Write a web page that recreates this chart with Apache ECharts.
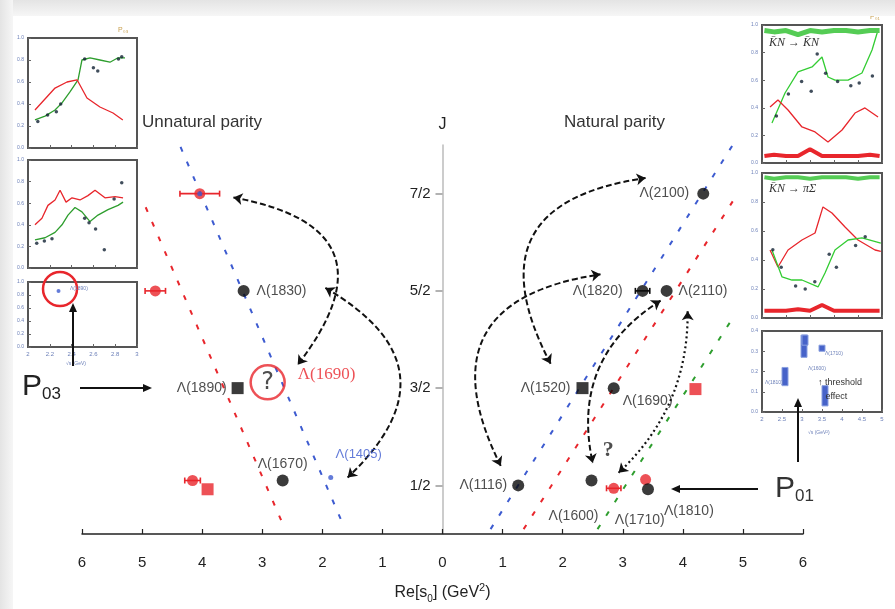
<!DOCTYPE html>
<html><head><meta charset="utf-8">
<script src="https://cdn.jsdelivr.net/npm/echarts@6/dist/echarts.min.js"></script>
<style>html,body{margin:0;padding:0;background:#fff}#c{width:895px;height:609px}</style>
</head><body><div id="c"></div>
<script>
// ---------------- data ----------------
const xTickLabels = ['6','5','4','3','2','1','0','1','2','3','4','5','6'];
const yTickValues = [0.5, 1.5, 2.5, 3.5];
const yTickLabels = ['1/2', '3/2', '5/2', '7/2'];

// known states (black)
const stateNames = ['Λ(1830)','Λ(1890)','Λ(1670)','Λ(2100)','Λ(1820)','Λ(2110)','Λ(1520)','Λ(1690)','Λ(1116)','Λ(1600)','Λ(1810)'];
const stateRe    = [-3.31, -3.41, -2.66, 4.34, 3.33, 3.73, 2.33, 2.85, 1.26, 2.48, 3.42];
const stateJ     = [2.5, 1.5, 0.55, 3.5, 2.5, 2.5, 1.5, 1.5, 0.5, 0.55, 0.46];
const stateShape = ['circle','rect','circle','circle','circle','circle','rect','circle','circle','circle','circle'];
const stateErr   = [0, 0, 0, 0, 0.12, 0, 0, 0, 0, 0, 0];

// poles found (red)
const poleNames = ['', '', '', '', '', 'Λ(1710)', ''];
const poleRe    = [-4.04, -4.78, -4.16, -3.91, 4.21, 2.85, 3.38];
const poleJ     = [3.5, 2.5, 0.55, 0.46, 1.49, 0.47, 0.56];
const poleErr   = [0.33, 0.17, 0.13, 0, 0, 0.12, 0];
const poleShape = ['circle','circle','circle','rect','rect','circle','circle'];

// blue states
const blueNames = ['Λ(1405)', ''];
const blueRe    = [-1.86, -4.04];
const blueJ     = [0.58, 3.5];

// question-mark candidate
const candRe = [-2.91];
const candJ  = [1.56];
const candLabel = 'Λ(1690)';
const qRe = [2.76];
const qJ  = [0.86];

// Regge trajectories [Re s, J] endpoints
const trajLeftRed   = [[-4.94, 3.36], [-2.65, 0.09]];
const trajLeftBlue  = [[-4.36, 3.98], [-1.65, 0.09]];
const trajRightBlue = [[0.80, 0.05], [4.83, 4.0]];
const trajRightRed  = [[1.35, 0.05], [4.83, 3.42]];
const trajRightGreen= [[2.58, 0.05], [4.83, 2.22]];

// connecting arrows [from, to, curvature]
const arrowFrom = [[-3.48, 3.46], [-1.95, 2.53], [0.97, 0.70], [1.80, 1.75], [3.63, 2.40], [4.08, 2.29]];
const arrowTo   = [[-2.41, 1.74], [-1.58, 0.58], [2.63, 2.67], [3.38, 3.66], [2.50, 0.73], [2.93, 0.63]];
const arrowBend = [0.82, 0.67, 0.69, 0.71, -0.35, 0.22];
const arrowDotted = [false, false, false, false, false, true];

// inset data (0..10 scales)
const l1X = [0.64,1.56,2.48,3.12,3.85,4.59,4.95,5.69,6.6,7.52,8.26,8.9];
const l1Green = [2.55,2.9,3.45,4.1,5.1,6.2,8.0,8.2,8.0,7.8,8.2,8.2];
const l1RedX = [0.64,2.48,3.58,4.5,5.41,6.6,7.8,8.7];
const l1Red  = [3.45,5.45,6.0,6.2,4.55,3.73,3.18,2.55];
const l1Black = [[0.9,2.4],[1.8,3.0],[2.6,3.3],[3.0,4.0],[5.2,8.1],[6.0,7.3],[6.4,7.0],[8.3,8.1],[8.6,8.3]];

const l2X = [0.64,1.56,2.48,3.12,3.67,4.31,4.95,5.69,6.42,7.34,8.26,8.72];
const l2Green = [2.6,2.8,3.3,4.0,4.9,5.6,5.2,4.3,4.9,5.4,5.8,6.1];
const l2RedX = [0.64,1.28,1.83,2.48,2.94,3.49,4.04,4.77,5.5,6.15,7.06,7.98,8.72];
const l2Red  = [4.0,4.6,5.8,6.3,7.2,6.1,6.5,6.3,6.7,7.2,6.5,6.6,6.5];
const l2Black = [[0.8,2.3],[1.5,2.5],[2.2,2.7],[5.2,4.6],[5.6,4.2],[6.2,3.6],[7.0,1.7],[7.9,6.4],[8.6,7.9]];

const l3Pt = [[2.8, 8.6]];

const r1GreenX = [0.83,1.92,3.0,4.17,5.0,5.5,6.08,7.17,8.33,9.17,9.67];
const r1Green  = [2.9,5.07,6.6,6.96,7.68,6.23,6.0,6.0,6.52,8.19,9.64];
const r1RedX = [0.67,1.33,2.17,3.33,4.42,5.5,6.67,7.75,8.58,9.67];
const r1Red  = [4.06,4.57,3.84,2.61,2.25,1.52,2.39,3.62,3.99,3.33];
const r1Black = [[1.2,3.4],[2.2,5.0],[3.3,5.9],[4.1,5.2],[4.6,7.9],[5.3,6.5],[6.3,5.9],[7.4,5.6],[8.1,5.8],[9.2,6.3]];
const r1BandX = [0.2,1.0,2.0,3.0,4.0,5.0,6.0,7.0,8.0,9.0,9.8];
const r1TopBand = [9.6,9.5,9.6,9.3,9.6,9.5,9.6,9.6,9.5,9.6,9.6];
const r1BotBand = [0.5,0.6,0.5,0.5,1.0,0.5,0.5,0.5,0.5,0.6,0.5];

const r2RedX = [0.67,1.33,2.17,3.33,4.42,5.08,5.83,6.92,8.0,9.42,9.9];
const r2Red  = [4.69,3.52,4.69,5.38,5.86,7.66,7.24,6.28,5.38,4.69,4.6];
const r2GreenX = [0.83,1.67,2.5,3.33,4.67,5.25,6.08,7.17,8.33,9.9];
const r2Green  = [4.69,2.83,2.62,2.62,2.14,3.1,4.69,5.38,5.52,5.17];
const r2Black = [[0.9,4.7],[1.6,3.5],[2.8,2.2],[3.6,2.0],[4.4,2.5],[5.6,4.4],[6.2,3.5],[7.8,5.0],[8.6,5.6]];
const r2TopBand = [9.7,9.6,9.7,9.7,9.6,9.7,9.7,9.7,9.6,9.7,9.7];
const r2BotBand = [0.5,0.5,0.5,0.6,0.5,0.9,0.5,0.5,0.5,0.5,0.5];

const r3XLabels = ['2','2.5','3','3.5','4','4.5','5'];
const r3Bars = [[2.1, 2.7, 3.8], [1.15, 1.3, 2.2], [2.15, 3.3, 3.8], [3.0, 3.0, 3.3], [3.15, 0.3, 1.3]];

// ---------------- styling ----------------
const RED = '#e8262c', BLUE = '#3d5bd0', GREEN = '#2e9e2e', BLACK = '#0a0a0a';
const FONT = 'Liberation Sans, Arial, sans-serif';

const stateLabelPlace = {
  'Λ(1830)': {position:'right', distance:7},
  'Λ(1890)': {position:'left', distance:5},
  'Λ(1670)': {position:'top', distance:3},
  'Λ(2100)': {position:'left', distance:8},
  'Λ(1820)': {position:'left', distance:14},
  'Λ(2110)': {position:'right', distance:6},
  'Λ(1520)': {position:'left', distance:6},
  'Λ(1690)': {position:'right', distance:3, offset:[0,13]},
  'Λ(1116)': {position:'left', distance:5},
  'Λ(1600)': {position:'bottom', distance:5, offset:[-18,18]},
  'Λ(1810)': {position:'right', distance:10, offset:[0,22]}
};

const chart = echarts.init(document.getElementById('c'), null, {renderer:'canvas'});

function errSeries(name, re, J, err, color, width) {
  return {
    type:'custom', name, xAxisIndex:0, yAxisIndex:0, z:3,
    data: re.map((x,i)=>[x, J[i], err[i]]).filter(d=>d[2]>0),
    renderItem(params, api){
      const x=api.value(0), y=api.value(1), e=api.value(2);
      const a=api.coord([x-e,y]), b=api.coord([x+e,y]);
      return {type:'group', children:[
        {type:'line', shape:{x1:a[0],y1:a[1],x2:b[0],y2:b[1]}, style:{stroke:color, lineWidth:width}},
        {type:'line', shape:{x1:a[0],y1:a[1]-3,x2:a[0],y2:a[1]+3}, style:{stroke:color, lineWidth:width}},
        {type:'line', shape:{x1:b[0],y1:b[1]-3,x2:b[0],y2:b[1]+3}, style:{stroke:color, lineWidth:width}}
      ]};
    }
  };
}

function traj(pts, color) {
  return {type:'line', xAxisIndex:0, yAxisIndex:0, data:pts, symbol:'none', silent:true, z:1,
    lineStyle:{color, width:2, type:[5,11]}};
}

const MAIN = {left:82, right:92, top:145, bottom:70};
const insetGrids = [
  {left:28, top:38, width:109, height:110},
  {left:28, top:160, width:109, height:108},
  {left:28, top:282, width:109, height:65},
  {left:762, top:25, width:120, height:138},
  {left:762, top:173, width:120, height:145},
  {left:762, top:331, width:120, height:81}
];
const grids = [MAIN].concat(insetGrids.map(g=>Object.assign({show:true, backgroundColor:'#fff', borderColor:'#555', borderWidth:2, z:5}, g)));

const xMin = -6, xMax = 6;
const plotW = 895 - MAIN.left - MAIN.right;
const zeroOffset = -plotW * (0 - xMin) / (xMax - xMin);

const xAxes = [{
  type:'value', gridIndex:0, min:xMin, max:xMax, interval:1,
  axisLine:{lineStyle:{color:'#222', width:1.5}},
  axisTick:{inside:true, length:5, lineStyle:{color:'#222', width:1.2}},
  axisLabel:{formatter:(v)=>xTickLabels[Math.round(v)+6], color:'#222', fontSize:15, margin:21, fontFamily:FONT},
  splitLine:{show:false},
  name:'{a|Re[s}{s|0}{a|] (GeV}{p|2}{a|)}', nameLocation:'middle', nameGap:48,
  nameTextStyle:{rich:{
    a:{fontSize:16, color:'#222', fontFamily:FONT, lineHeight:22},
    s:{fontSize:10, color:'#222', fontFamily:FONT, verticalAlign:'bottom', lineHeight:22},
    p:{fontSize:11, color:'#222', fontFamily:FONT, verticalAlign:'top', lineHeight:22}
  }}
}];
const yAxes = [{
  type:'value', gridIndex:0, min:0, max:4, position:'left', offset:zeroOffset,
  axisLine:{onZero:false, lineStyle:{color:'#bbb', width:1.5}},
  axisTick:{customValues:yTickValues, length:7, lineStyle:{color:'#999', width:1.5}},
  axisLabel:{customValues:yTickValues, formatter:(v)=>yTickLabels[yTickValues.indexOf(v)], color:'#222', fontSize:15, margin:12, fontFamily:FONT},
  splitLine:{show:false},
  name:'J', nameGap:12, nameTextStyle:{fontSize:16, color:'#222', fontFamily:FONT}
}];
insetGrids.forEach((g,i)=>{
  const gi=i+1;
  const isR3 = (gi===6);
  xAxes.push({type:'value', gridIndex:gi, min:0, max:isR3?6:10, interval:isR3?1:2,
    axisLine:{show:false}, axisTick:{inside:true, length:3, lineStyle:{color:'#666'}},
    axisLabel:{show: isR3 || gi===3, fontSize:6, color:'#6b7fb8', margin:4,
      formatter:isR3 ? (v)=>r3XLabels[Math.round(v)] : (v)=>['2','2.2','2.4','2.6','2.8','3'][Math.round(v/2)]},
    splitLine:{show:false}, z:6});
  yAxes.push({type:'value', gridIndex:gi, min:0, max:isR3?4:10, interval:isR3?1:2,
    axisLine:{show:false}, axisTick:{inside:true, length:3, lineStyle:{color:'#666'}},
    axisLabel:{fontSize:5, color:'#6b7fb8', margin:4, formatter:(v)=>(v/10).toFixed(1)},
    splitLine:{show:false}, z:6});
});

const series = [];
series.push(traj(trajLeftRed, RED), traj(trajLeftBlue, BLUE), traj(trajRightBlue, BLUE), traj(trajRightRed, RED), traj(trajRightGreen, GREEN));

// arrows
series.push({
  type:'lines', coordinateSystem:'cartesian2d', xAxisIndex:0, yAxisIndex:0, z:4, silent:true,
  symbol:['arrow','arrow'], symbolSize:9,
  data: arrowFrom.map((f,i)=>({coords:[f, arrowTo[i]],
    lineStyle:{curveness:arrowBend[i], type: arrowDotted[i] ? [2,3] : [6,3], width: arrowDotted[i]?2.2:2, color:'#111', opacity:1}}))
});

series.push(errSeries('poleErr', poleRe, poleJ, poleErr, RED, 1.6));
series.push(errSeries('stateErr', stateRe, stateJ, stateErr, BLACK, 1.6));

series.push({
  type:'scatter', xAxisIndex:0, yAxisIndex:0, z:5,
  data: poleRe.map((x,i)=>({value:[x, poleJ[i]], symbol:poleShape[i], symbolSize: poleShape[i]==='rect'?12:11,
    label: poleNames[i] ? {show:true, formatter:poleNames[i], position:'bottom', distance:5, offset:[26,14], color:'#222', fontSize:14, fontFamily:FONT} : {show:false}})),
  itemStyle:{color:RED}
});
series.push({
  type:'scatter', xAxisIndex:0, yAxisIndex:0, z:6,
  data: blueRe.map((x,i)=>({value:[x, blueJ[i]], symbolSize:5,
    label: blueNames[i] ? {show:true, formatter:blueNames[i], position:'top', distance:14, offset:[28,0], color:BLUE, fontSize:13, fontFamily:FONT} : {show:false}})),
  itemStyle:{color:BLUE}
});
series.push({
  type:'scatter', xAxisIndex:0, yAxisIndex:0, z:6,
  data: stateRe.map((x,i)=>({value:[x, stateJ[i]], symbol:stateShape[i], symbolSize:12,
    label: Object.assign({show:true, formatter:stateNames[i], color:'#222', fontSize:14, fontFamily:FONT}, stateLabelPlace[stateNames[i]])})),
  itemStyle:{color:BLACK}
});
// candidate with "?"
series.push({
  type:'scatter', xAxisIndex:0, yAxisIndex:0, z:6,
  data: candRe.map((x,i)=>({value:[x, candJ[i]]})), symbolSize:34,
  itemStyle:{color:'rgba(255,255,255,0)', borderColor:RED, borderWidth:2.5},
  label:{show:true, position:'inside', formatter:'?', fontSize:24, color:'#222', fontFamily:'DejaVu Sans, sans-serif'}
});
series.push({
  type:'scatter', xAxisIndex:0, yAxisIndex:0, z:6,
  data: candRe.map((x,i)=>({value:[x, candJ[i]]})), symbolSize:0,
  label:{show:true, position:'right', distance:30, offset:[0,-8], formatter:candLabel, fontSize:17, color:RED, fontFamily:'Liberation Serif, serif'}
});
series.push({
  type:'scatter', xAxisIndex:0, yAxisIndex:0, z:6,
  data: qRe.map((x,i)=>({value:[x, qJ[i]]})), symbolSize:0,
  label:{show:true, position:'inside', formatter:'?', fontSize:22, fontWeight:'bold', color:'#222', fontFamily:'Liberation Serif, serif'}
});

// insets
function iline(gi, xs, ys, color, w){ return {type:'line', xAxisIndex:gi, yAxisIndex:gi, data:xs.map((x,i)=>[x,ys[i]]), symbol:'none', z:7, silent:true, lineStyle:{color, width:w||1.3}}; }
function ipts(gi, pts, color, sz){ return {type:'scatter', xAxisIndex:gi, yAxisIndex:gi, data:pts, symbolSize:sz||3.5, z:8, silent:true, itemStyle:{color}}; }
series.push(iline(1, l1X, l1Green, GREEN), iline(1, l1RedX, l1Red, RED), ipts(1, l1Black, '#123'));
series.push(iline(2, l2X, l2Green, GREEN), iline(2, l2RedX, l2Red, RED), ipts(2, l2Black, '#123'));
series.push(ipts(3, l3Pt, BLUE, 4));
series.push(iline(4, r1GreenX, r1Green, '#3c3'), iline(4, r1RedX, r1Red, RED), ipts(4, r1Black, '#123'),
  iline(4, r1BandX, r1TopBand, '#5c5', 5), iline(4, r1BandX, r1BotBand, RED, 4));
series.push(iline(5, r2RedX, r2Red, RED), iline(5, r2GreenX, r2Green, '#3c3'), ipts(5, r2Black, '#123'),
  iline(5, r1BandX, r2TopBand, '#5c5', 4), iline(5, r1BandX, r2BotBand, RED, 4));
series.push({
  type:'custom', xAxisIndex:6, yAxisIndex:6, z:8, data:r3Bars,
  renderItem(params, api){
    const a=api.coord([api.value(0), api.value(2)]), b=api.coord([api.value(0), api.value(1)]);
    return {type:'rect', shape:{x:a[0]-3, y:a[1], width:6, height:b[1]-a[1]}, style:{fill:'#4763c9', stroke:'#8aa0e0'}};
  }
});

// ---------------- annotations ----------------
function arrowG(x1,y1,x2,y2){
  const ang=Math.atan2(y2-y1,x2-x1), L=9, W=4;
  const bx=x2-L*Math.cos(ang), by=y2-L*Math.sin(ang);
  return [
    {type:'line', shape:{x1,y1,x2:bx,y2:by}, style:{stroke:'#111', lineWidth:2}, z:20},
    {type:'polygon', shape:{points:[[x2,y2],[bx+W*Math.sin(ang), by-W*Math.cos(ang)],[bx-W*Math.sin(ang), by+W*Math.cos(ang)]]}, style:{fill:'#111'}, z:20}
  ];
}
const graphic = [
  {type:'rect', shape:{x:0,y:0,width:895,height:16}, style:{fill:new echarts.graphic.LinearGradient(0,0,0,1,[{offset:0,color:'#e4e4e4'},{offset:1,color:'#f6f6f6'}])}, z:30},
  {type:'rect', shape:{x:0,y:0,width:13,height:609}, style:{fill:new echarts.graphic.LinearGradient(0,0,1,0,[{offset:0,color:'#e4e4e4'},{offset:1,color:'#f6f6f6'}])}, z:30},
  {type:'text', left:142, top:114, style:{text:'Unnatural parity', fontSize:17, fill:'#333', fontFamily:FONT}, z:20},
  {type:'text', left:564, top:114, style:{text:'Natural parity', fontSize:17, fill:'#333', fontFamily:FONT}, z:20},
  {type:'text', left:22, top:372, style:{text:'{p|P}{s|03}', rich:{p:{fontSize:30, fill:'#222', fontFamily:FONT}, s:{fontSize:17, fill:'#222', fontFamily:FONT, verticalAlign:'bottom', padding:[14,0,0,0]}}}, z:20},
  {type:'text', left:775, top:474, style:{text:'{p|P}{s|01}', rich:{p:{fontSize:30, fill:'#333', fontFamily:FONT}, s:{fontSize:17, fill:'#333', fontFamily:FONT, verticalAlign:'bottom', padding:[14,0,0,0]}}}, z:20},
  {type:'circle', shape:{cx:60, cy:289, r:17}, style:{fill:'none', stroke:RED, lineWidth:2.5}, z:20},
  {type:'text', left:70, top:286, style:{text:'Λ(1890)', fontSize:5, fill:'#6b7fb8', fontFamily:FONT}, z:20},
  {type:'text', left:66, top:361, style:{text:'√s (GeV)', fontSize:5, fill:'#6b7fb8', fontFamily:FONT}, z:20},
  {type:'text', left:769, top:37, style:{text:'K̄N → K̄N', fontSize:12, fontStyle:'italic', fill:'#333', fontFamily:'Liberation Serif, serif'}, z:20},
  {type:'text', left:769, top:183, style:{text:'K̄N → πΣ', fontSize:12, fontStyle:'italic', fill:'#333', fontFamily:'Liberation Serif, serif'}, z:20},
  {type:'text', left:818, top:376, style:{text:'↑ threshold\n   effect', fontSize:9, lineHeight:14, fill:'#333', fontFamily:FONT}, z:20},
  {type:'text', left:825, top:351, style:{text:'Λ(1710)', fontSize:5, fill:'#6b7fb8', fontFamily:FONT}, z:20},
  {type:'text', left:808, top:366, style:{text:'Λ(1600)', fontSize:5, fill:'#6b7fb8', fontFamily:FONT}, z:20},
  {type:'text', left:765, top:380, style:{text:'Λ(1810)', fontSize:5, fill:'#6b7fb8', fontFamily:FONT}, z:20},
  {type:'text', left:808, top:430, style:{text:'√s (GeV²)', fontSize:5, fill:'#6b7fb8', fontFamily:FONT}, z:20},
  {type:'text', left:118, top:27, style:{text:'P₀₃', fontSize:7, fill:'#c9a050', fontFamily:FONT}, z:20},
  {type:'text', left:870, top:14, style:{text:'P₀₁', fontSize:7, fill:'#c9a050', fontFamily:FONT}, z:20}
].concat(arrowG(80,388,152,388), arrowG(73,366,73,303), arrowG(758,489,671,489), arrowG(798,462,798,398));

chart.setOption({
  animation:false,
  backgroundColor:'#fff',
  grid: grids, xAxis: xAxes, yAxis: yAxes, series, graphic
});
</script></body></html>
